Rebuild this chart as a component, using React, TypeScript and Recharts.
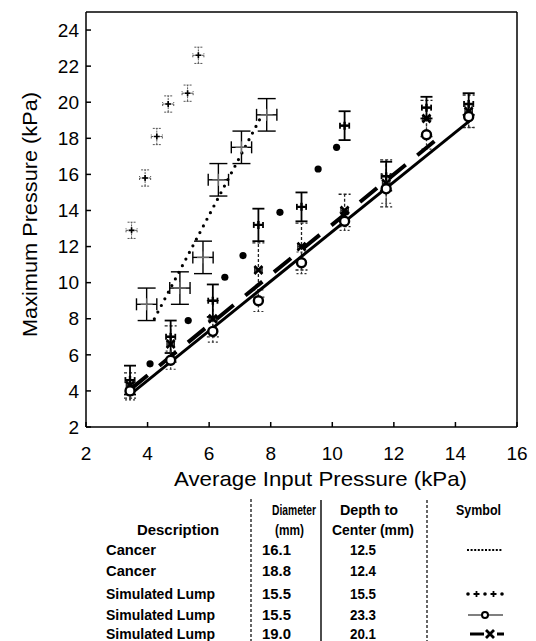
import React from "react";
import { ScatterChart, Scatter, XAxis, YAxis, ErrorBar } from "recharts";

const FONT = "'Liberation Sans', Arial, sans-serif";

const xTicks = [2, 4, 6, 8, 10, 12, 14, 16];
const yTicks = [2, 4, 6, 8, 10, 12, 14, 16, 18, 20, 22, 24];

// Cancer, 18.8 mm / 12.4 mm (no line)
const cancerBX = [3.48, 3.92, 4.3, 4.67, 5.3, 5.65];
const cancerBY = [12.9, 15.8, 18.1, 19.9, 20.5, 22.6];

// Cancer, 16.1 mm / 12.5 mm (dotted fit)
const cancerAX = [3.97, 5.05, 5.8, 6.3, 7.05, 7.87];
const cancerAY = [8.8, 9.7, 11.4, 15.7, 17.5, 19.3];
const cancerAFitX = [4.22, 7.72];
const cancerAFitY = [8.0, 19.3];

// input pressure levels for the simulated lumps
const lumpX = [3.43, 4.75, 6.12, 7.6, 9.0, 10.4, 11.75, 13.06, 14.43];

// Simulated lump 15.5 / 15.5 (big dots)
const lumpAY = [4.6, 7.0, 9.0, 13.2, 14.2, 18.7, 15.9, 19.7, 19.9];
const lumpAErr = [0.8, 0.9, 0.9, 0.9, 0.8, 0.8, 0.8, 0.6, 0.6];
const lumpATrendX = [4.08, 5.32, 6.51, 7.1, 8.3, 9.54, 10.14];
const lumpATrendY = [5.5, 7.9, 10.3, 11.5, 13.9, 16.3, 17.5];

// Simulated lump 15.5 / 23.3 (solid, open circles)
const lumpBY = [4.0, 5.7, 7.3, 9.0, 11.1, 13.4, 15.2, 18.2, 19.2];
const lumpBErr = [0.5, 0.5, 0.6, 0.6, 0.6, 0.5, 0.8, 0.8, 0.6];
const lumpBFitX = [3.4, 14.45];
const lumpBFitY = [3.75, 18.95];

// Simulated lump 19.0 / 20.1 (dashed, crosses)
const lumpCY = [4.3, 6.6, 8.0, 10.7, 12.0, 14.0, 15.5, 19.1, 19.5];
const lumpCErr = [0.7, 1.0, 1.0, 1.5, 1.3, 0.9, 1.3, 1.0, 0.9];
const lumpCFitX = [3.45, 13.65];
const lumpCFitY = [4.1, 18.3];

// table
const descriptions = ["Cancer", "Cancer", "Simulated Lump", "Simulated Lump", "Simulated Lump"];
const diameters = ["16.1", "18.8", "15.5", "15.5", "19.0"];
const depths = ["12.5", "12.4", "15.5", "23.3", "20.1"];
const rowY = [550, 571, 594, 615, 634];

const pts = (xs: number[], ys: number[], ex = 0, ey: number | number[] = 0) =>
  xs.map((x, i) => ({ x, y: ys[i], ex, ey: Array.isArray(ey) ? ey[i] : ey }));

const plus = (size: number, sw: number, color: string) => (p: any) => (
  <path
    d={`M${p.cx - size},${p.cy}H${p.cx + size}M${p.cx},${p.cy - size}V${p.cy + size}`}
    stroke={color}
    strokeWidth={sw}
    fill="none"
  />
);

const cross = (p: any) => (
  <path
    d={`M${p.cx - 4},${p.cy - 4}L${p.cx + 4},${p.cy + 4}M${p.cx - 4},${p.cy + 4}L${p.cx + 4},${p.cy - 4}`}
    stroke="#000"
    strokeWidth={2.6}
    fill="none"
  />
);

const openCircle = (p: any) => <circle cx={p.cx} cy={p.cy} r={4.5} fill="#fff" stroke="#000" strokeWidth={2.4} />;
const bigDot = (p: any) => <circle cx={p.cx} cy={p.cy} r={3.6} fill="#000" />;
const none = () => <g />;

function Table() {
  const t = { fontFamily: FONT, fontSize: 14, fontWeight: 700, fill: "#000" } as const;
  const dotRow = rowY[2];
  return (
    <svg width={536} height={641} style={{ position: "absolute", left: 0, top: 0 }}>
      <text x={320.5} y={486} textAnchor="middle" textLength={293} lengthAdjust="spacingAndGlyphs"
        style={{ fontFamily: FONT, fontSize: 21 }}>Average Input Pressure (kPa)</text>
      <text transform="translate(37,214.5) rotate(-90)" textAnchor="middle" textLength={245}
        lengthAdjust="spacingAndGlyphs" style={{ fontFamily: FONT, fontSize: 21 }}>Maximum Pressure (kPa)</text>

      <line x1={251} y1={499} x2={251} y2={641} stroke="#000" strokeWidth={1.2} strokeDasharray="3 2" />
      <line x1={321} y1={500} x2={321} y2={641} stroke="#000" strokeWidth={1.4} />
      <line x1={427} y1={500} x2={427} y2={641} stroke="#000" strokeWidth={1.2} strokeDasharray="3 2" />

      <text x={272} y={514.5} textLength={44} lengthAdjust="spacingAndGlyphs" style={t}>Diameter</text>
      <text x={340} y={514.5} textLength={58} lengthAdjust="spacingAndGlyphs" style={t}>Depth to</text>
      <text x={456} y={514.5} textLength={45} lengthAdjust="spacingAndGlyphs" style={t}>Symbol</text>
      <text x={137} y={535} textLength={82} lengthAdjust="spacingAndGlyphs" style={t}>Description</text>
      <text x={275} y={535} textLength={29} lengthAdjust="spacingAndGlyphs" style={t}>(mm)</text>
      <text x={332} y={535} textLength={82} lengthAdjust="spacingAndGlyphs" style={t}>Center (mm)</text>

      {descriptions.map((d, i) => (
        <g key={i}>
          <text x={106} y={rowY[i] + 5} textLength={d === "Cancer" ? 50 : 109} lengthAdjust="spacingAndGlyphs" style={t}>{d}</text>
          <text x={262} y={rowY[i] + 5} textLength={29} lengthAdjust="spacingAndGlyphs" style={t}>{diameters[i]}</text>
          <text x={350} y={rowY[i] + 5} textLength={26} lengthAdjust="spacingAndGlyphs" style={t}>{depths[i]}</text>
        </g>
      ))}

      <line x1={467} y1={rowY[0]} x2={503} y2={rowY[0]} stroke="#000" strokeWidth={1.8} strokeDasharray="2 1.6" />

      {[468, 485, 502].map((cx) => <circle key={cx} cx={cx} cy={dotRow} r={1.8} fill="#000" />)}
      {[476.5, 493.5].map((cx) => (
        <path key={cx} d={`M${cx - 3},${dotRow}H${cx + 3}M${cx},${dotRow - 3}V${dotRow + 3}`} stroke="#000" strokeWidth={1.8} />
      ))}

      <line x1={468} y1={rowY[3]} x2={503} y2={rowY[3]} stroke="#000" strokeWidth={1.2} />
      <circle cx={485} cy={rowY[3]} r={3} fill="#fff" stroke="#000" strokeWidth={2} />
      <line x1={470} y1={rowY[4]} x2={484} y2={rowY[4]} stroke="#000" strokeWidth={3} />
      <line x1={497} y1={rowY[4]} x2={504} y2={rowY[4]} stroke="#000" strokeWidth={3} />
      <path d={`M486,${rowY[4] - 4}L494,${rowY[4] + 4}M486,${rowY[4] + 4}L494,${rowY[4] - 4}`} stroke="#000" strokeWidth={2.8} />
    </svg>
  );
}

export default function App() {
  const tick = { fontSize: 19, fill: "#000", fontFamily: FONT };
  const axisLine = { stroke: "#000", strokeWidth: 1.5 };
  return (
    <div style={{ position: "absolute", left: 0, top: 0, width: 536, height: 641, background: "#fff" }}>
      <ScatterChart width={536} height={500} margin={{ top: 2, right: 9, bottom: 13, left: 30 }}>
        <XAxis type="number" dataKey="x" domain={[2, 16]} ticks={xTicks} allowDataOverflow
          tick={tick} axisLine={axisLine} tickLine={axisLine} tickSize={-5} tickMargin={25} height={60} />
        <XAxis xAxisId="top" orientation="top" type="number" dataKey="x" domain={[2, 16]} ticks={xTicks}
          allowDataOverflow tick={false} axisLine={axisLine} tickLine={axisLine} tickSize={-5} height={10} />
        <YAxis type="number" dataKey="y" domain={[2, 25]} ticks={yTicks} allowDataOverflow
          tick={tick} axisLine={axisLine} tickLine={axisLine} tickSize={-5} tickMargin={12} width={56} />
        <YAxis yAxisId="right" orientation="right" type="number" dataKey="y" domain={[2, 25]} ticks={yTicks}
          allowDataOverflow tick={false} axisLine={axisLine} tickLine={axisLine} tickSize={-5} width={10} />

        <Scatter data={pts(cancerAFitX, cancerAFitY)} shape={none} isAnimationActive={false}
          line={{ stroke: "#000", strokeWidth: 3.2, strokeDasharray: "0 7.5", strokeLinecap: "round" }} />
        <Scatter data={pts(lumpBFitX, lumpBFitY)} shape={none} isAnimationActive={false}
          line={{ stroke: "#000", strokeWidth: 3 }} />
        <Scatter data={pts(lumpCFitX, lumpCFitY)} shape={none} isAnimationActive={false}
          line={{ stroke: "#000", strokeWidth: 4, strokeDasharray: "22 15" }} />
        <Scatter data={pts(lumpATrendX, lumpATrendY)} shape={bigDot} isAnimationActive={false} />

        <Scatter xAxisId="top" yAxisId="right" data={pts(cancerBX, cancerBY, 0.18, 0.45)}
          shape={plus(3, 1.6, "#000")} isAnimationActive={false}>
          <ErrorBar dataKey="ey" direction="y" width={4} stroke="#555" strokeWidth={1} strokeDasharray="2 1" />
          <ErrorBar dataKey="ex" direction="x" width={2} stroke="#555" strokeWidth={1} strokeDasharray="2 1" />
        </Scatter>

        <Scatter data={pts(cancerAX, cancerAY, 0.33, 0.9)} shape={plus(6, 1, "#777")} isAnimationActive={false}>
          <ErrorBar dataKey="ey" direction="y" width={9} stroke="#000" strokeWidth={1.4} />
          <ErrorBar dataKey="ex" direction="x" width={6} stroke="#000" strokeWidth={1.4} />
        </Scatter>

        <Scatter data={pts(lumpX, lumpCY, 0.12, lumpCErr)} shape={cross} isAnimationActive={false}>
          <ErrorBar dataKey="ey" direction="y" width={6} stroke="#222" strokeWidth={1.3} strokeDasharray="3 2" />
          <ErrorBar dataKey="ex" direction="x" width={3} stroke="#222" strokeWidth={1.3} />
        </Scatter>

        <Scatter data={pts(lumpX, lumpAY, 0.15, lumpAErr)} shape={plus(4, 2.4, "#000")} isAnimationActive={false}>
          <ErrorBar dataKey="ey" direction="y" width={6} stroke="#000" strokeWidth={1.8} />
          <ErrorBar dataKey="ex" direction="x" width={3} stroke="#000" strokeWidth={1.8} />
        </Scatter>

        <Scatter data={pts(lumpX, lumpBY, 0.1, lumpBErr)} shape={openCircle} isAnimationActive={false}>
          <ErrorBar dataKey="ey" direction="y" width={5} stroke="#333" strokeWidth={1.2} strokeDasharray="2 2" />
        </Scatter>
      </ScatterChart>
      <Table />
    </div>
  );
}
